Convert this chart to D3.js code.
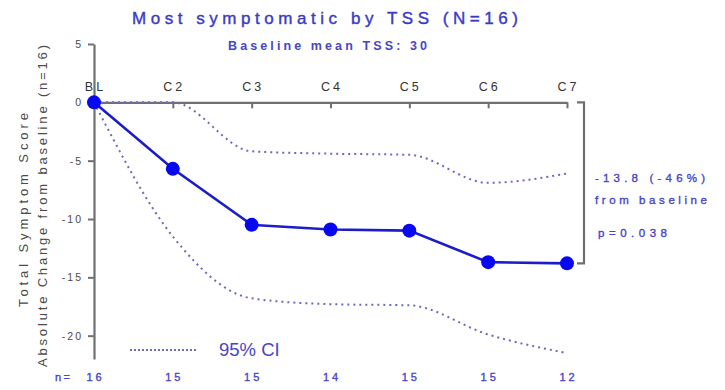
<!DOCTYPE html>
<html>
<head>
<meta charset="utf-8">
<script src="https://cdn.jsdelivr.net/npm/d3@7"></script>
<style>
  html, body { margin: 0; padding: 0; background: #fff; }
  svg { display: block; font-family: "Liberation Sans", Arial, sans-serif; }
</style>
</head>
<body>
<svg id="chart" width="725" height="390"></svg>
<script>
// Visits and mean absolute change in Total Symptom Score with 95% CI
const visits = ["BL", "C2", "C3", "C4", "C5", "C6", "C7"];
const meanChange = [0, -5.7, -10.5, -10.9, -11.0, -13.7, -13.8];
const ciUpper = [0, 0, -4.2, -4.4, -4.5, -6.9, -6.1];
const ciLower = [0, -11.5, -16.8, -17.3, -17.4, -19.9, -21.5];
const nCounts = [16, 15, 15, 14, 15, 15, 12];
const yTicks = [5, 0, -5, -10, -15, -20];
const finalChange = -13.8;
const finalPct = -46;
const pValue = "0.038";

const blue = "#3a3ac6";
const textBlue = "#4646c6";
const axisGray = "#707070";
const labelGray = "#4a4a4a";

const svg = d3.select("#chart");

const x = d3.scalePoint().domain(visits).range([94, 567]);
const y = d3.scaleLinear().domain([-22, 5]).range([359, 44]);

// medium-weight look for the blue annotation text
const medium = sel => sel
  .attr("stroke", textBlue)
  .attr("stroke-width", 0.35);

// Title block
svg.append("text")
  .attr("x", 132).attr("y", 24)
  .attr("textLength", 386).attr("lengthAdjust", "spacing")
  .attr("font-size", 17).attr("fill", blue)
  .attr("stroke", blue).attr("stroke-width", 0.4)
  .text("Most symptomatic by TSS (N=16)");

svg.append("text")
  .attr("x", 228).attr("y", 50)
  .attr("textLength", 199).attr("lengthAdjust", "spacing")
  .attr("font-size", 12.5).attr("font-weight", "bold").attr("fill", textBlue)
  .text("Baseline mean TSS: 30");

// Y axis (left)
const yAxis = svg.append("g")
  .attr("transform", `translate(${x("BL")},0)`)
  .call(d3.axisLeft(y).tickValues(yTicks).tickSize(6).tickPadding(5)
    .tickSizeOuter(0).tickFormat(d => String(d)));
yAxis.select(".domain").attr("stroke", axisGray).attr("stroke-width", 2.2);
yAxis.selectAll(".tick line").attr("stroke", axisGray).attr("stroke-width", 2);
yAxis.selectAll(".tick text")
  .attr("font-size", 10.5).attr("fill", labelGray)
  .attr("letter-spacing", "2px")
  .attr("font-family", "Liberation Sans, Arial, sans-serif");

// X axis along zero, ticks pointing down, labels above
const xAxis = svg.append("g")
  .attr("transform", `translate(0,${y(0)})`)
  .call(d3.axisBottom(x).tickSize(6).tickSizeOuter(0).tickFormat(""));
xAxis.select(".domain").attr("stroke", axisGray).attr("stroke-width", 2.2);
xAxis.selectAll(".tick line").attr("stroke", axisGray).attr("stroke-width", 2);

svg.append("g").selectAll("text")
  .data(visits).join("text")
  .attr("x", d => x(d)).attr("y", 91).attr("dx", 1.5)
  .attr("text-anchor", "middle")
  .attr("font-size", 12.5).attr("letter-spacing", "3px")
  .attr("fill", "#333")
  .text(d => d);

// Y axis titles
svg.append("text")
  .attr("transform", "translate(28,307) rotate(-90)")
  .attr("textLength", 194).attr("lengthAdjust", "spacing")
  .attr("font-size", 13).attr("fill", labelGray)
  .text("Total Symptom Score");
svg.append("text")
  .attr("transform", "translate(47,367) rotate(-90)")
  .attr("textLength", 322).attr("lengthAdjust", "spacing")
  .attr("font-size", 13).attr("fill", labelGray)
  .text("Absolute Change from baseline (n=16)");

// 95% CI dotted curves
const ciLine = d3.line()
  .x((d, i) => x(visits[i]))
  .y(d => y(d))
  .curve(d3.curveMonotoneX);

const ciStyle = sel => sel
  .attr("fill", "none")
  .attr("stroke", "#6a6abf")
  .attr("stroke-width", 2)
  .attr("stroke-dasharray", "2,4");

svg.append("path").datum(ciUpper).attr("d", ciLine).call(ciStyle);
svg.append("path").datum(ciLower).attr("d", ciLine).call(ciStyle);

// Mean change line with markers
const meanLine = d3.line()
  .x((d, i) => x(visits[i]))
  .y(d => y(d));

svg.append("path").datum(meanChange)
  .attr("d", meanLine)
  .attr("fill", "none")
  .attr("stroke", "#1c1cc8")
  .attr("stroke-width", 2.6);

svg.append("g").selectAll("circle")
  .data(meanChange).join("circle")
  .attr("cx", (d, i) => x(visits[i]))
  .attr("cy", d => y(d))
  .attr("r", 7)
  .attr("fill", "#0808f0");

// Bracket showing total change at the last visit
const bx = 584;
svg.append("path")
  .attr("d", `M${bx - 7},${y(0)} H${bx} V${y(finalChange)} H${bx - 7}`)
  .attr("fill", "none")
  .attr("stroke", axisGray)
  .attr("stroke-width", 2.2);

svg.append("text")
  .attr("x", 595).attr("y", 182)
  .attr("textLength", 110).attr("lengthAdjust", "spacing")
  .attr("font-size", 11.5).attr("fill", textBlue).call(medium)
  .text(`${finalChange} (${finalPct}%)`);
svg.append("text")
  .attr("x", 595).attr("y", 204)
  .attr("textLength", 112).attr("lengthAdjust", "spacing")
  .attr("font-size", 11.5).attr("fill", textBlue).call(medium)
  .text("from baseline");
svg.append("text")
  .attr("x", 598).attr("y", 237)
  .attr("textLength", 69).attr("lengthAdjust", "spacing")
  .attr("font-size", 11.5).attr("fill", textBlue).call(medium)
  .text(`p=${pValue}`);

// Legend
svg.append("line")
  .attr("x1", 130).attr("x2", 196)
  .attr("y1", 350).attr("y2", 350)
  .call(ciStyle)
  .attr("stroke-dasharray", "2,2");
svg.append("text")
  .attr("x", 219).attr("y", 356)
  .attr("font-size", 18.5).attr("fill", textBlue)
  .text("95% CI");

// Sample sizes per visit
svg.append("text")
  .attr("x", 55).attr("y", 381)
  .attr("font-size", 11).attr("letter-spacing", "2.5px")
  .attr("fill", textBlue).call(medium)
  .text("n=");
svg.append("g").selectAll("text")
  .data(nCounts).join("text")
  .attr("x", (d, i) => x(visits[i])).attr("y", 381).attr("dx", 1.5)
  .attr("text-anchor", "middle")
  .attr("font-size", 11).attr("letter-spacing", "3px")
  .attr("fill", textBlue).call(medium)
  .text(d => d);
</script>
</body>
</html>
